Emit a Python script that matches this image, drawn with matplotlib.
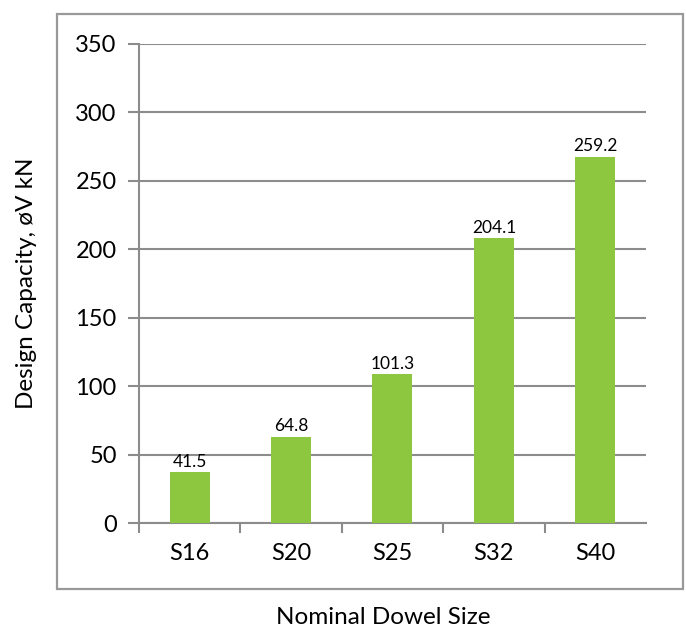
#! usr/bin/env python3

import numpy as np
import matplotlib
matplotlib.use("Agg")
import matplotlib.pyplot as plt
from matplotlib.patches import Rectangle

# data
sizes = ['S16', 'S20', 'S25', 'S32', 'S40']
bar_heights = [37.0, 63.1, 108.7, 208.0, 267.4]
value_labels = ['41.5', '64.8', '101.3', '204.1', '259.2']
y_ticks = [0, 50, 100, 150, 200, 250, 300, 350]

plt.rcParams['font.family'] = ['Lato', 'DejaVu Sans']
grey = '#8c8c8c'
green = '#8dc63f'

fig = plt.figure(figsize=(6.86, 6.28), dpi=100)
ax = fig.add_axes([0.2026, 0.167, 0.739, 0.763])

# outer chart frame
fig.patches.append(Rectangle((0.083, 0.062), 0.912, 0.916, transform=fig.transFigure,
                             fill=False, edgecolor='#999999', linewidth=1.6))

x = np.arange(len(sizes))
bars = ax.bar(x, bar_heights, width=0.395, color=green, zorder=3)
for b, lab in zip(bars, value_labels):
    ax.text(b.get_x() + b.get_width() / 2, b.get_height() + 2, lab,
            ha='center', va='bottom', fontsize=12.5, color='black', zorder=4)

ax.set_xlim(-0.5, len(sizes) - 0.5)
ax.set_ylim(0, 350)
ax.set_yticks(y_ticks)
ax.set_yticklabels([str(t) for t in y_ticks], fontsize=17)
ax.set_xticks(x)
ax.set_xticklabels(sizes, fontsize=17)
ax.set_xticks(np.arange(len(sizes)) - 0.5, minor=True)
ax.tick_params(axis='x', which='major', length=0, pad=14)
ax.tick_params(axis='x', which='minor', length=7, color=grey, width=1.5)
ax.tick_params(axis='y', length=8, color=grey, width=1.5, pad=8)

ax.grid(axis='y', color=grey, linewidth=1.5, zorder=0)
ax.set_axisbelow(True)
for side in ['top', 'right']:
    ax.spines[side].set_visible(False)
ax.spines['left'].set_color(grey)
ax.spines['left'].set_linewidth(1.5)
ax.spines['bottom'].set_color(grey)
ax.spines['bottom'].set_linewidth(1.5)

fig.text(0.039, 0.549, 'Design Capacity, øV kN', rotation=90,
         ha='center', va='center', fontsize=17.5)
fig.text(0.558, 0.016, 'Nominal Dowel Size', ha='center', va='center', fontsize=17.5)

fig.savefig('out.png', dpi=100)
plt.close()
